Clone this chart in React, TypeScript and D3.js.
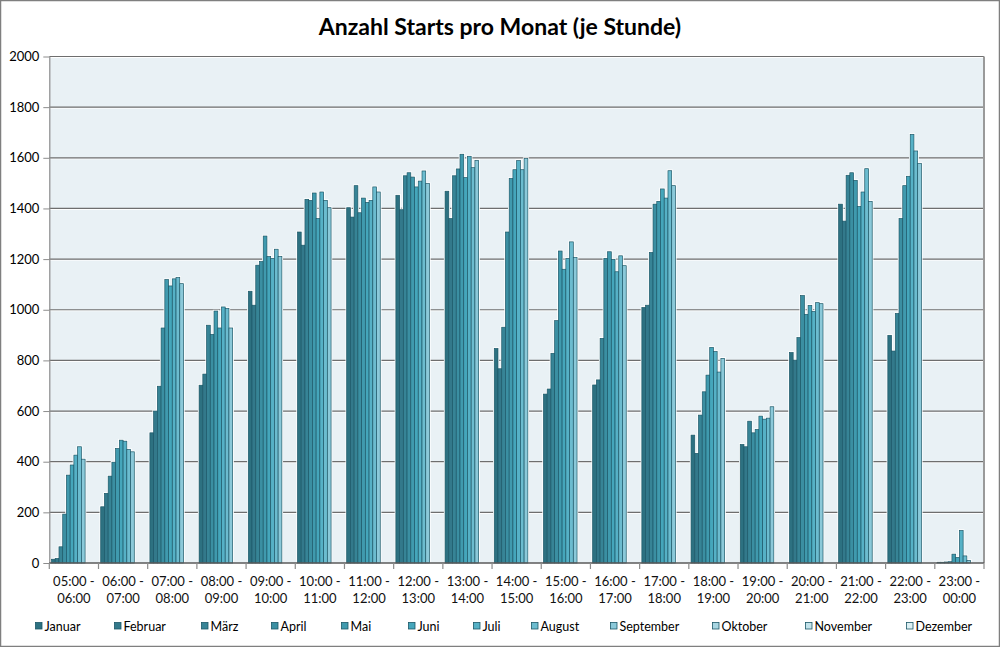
import React, { useEffect, useRef } from 'react';
import * as d3 from 'd3';

// Hour ranges on the x axis (two lines per label)
const HOUR_FROM = ['05:00', '06:00', '07:00', '08:00', '09:00', '10:00', '11:00', '12:00', '13:00', '14:00',
  '15:00', '16:00', '17:00', '18:00', '19:00', '20:00', '21:00', '22:00', '23:00'];
const HOUR_TO = ['06:00', '07:00', '08:00', '09:00', '10:00', '11:00', '12:00', '13:00', '14:00', '15:00',
  '16:00', '17:00', '18:00', '19:00', '20:00', '21:00', '22:00', '23:00', '00:00'];

const MONTHS = ['Januar', 'Februar', 'März', 'April', 'Mai', 'Juni', 'Juli', 'August',
  'September', 'Oktober', 'November', 'Dezember'];

// Starts per hour, one array per month
const JANUAR = [15, 222, 514, 702, 1073, 1307, 1403, 1452, 1468, 847, 667, 703, 1009, 505, 468, 831, 1417, 899, 3];
const FEBRUAR = [18, 275, 600, 746, 1018, 1255, 1366, 1395, 1360, 767, 687, 723, 1018, 433, 459, 801, 1350, 837, 3];
const MAERZ = [64, 343, 698, 939, 1176, 1436, 1490, 1529, 1529, 931, 828, 887, 1226, 584, 560, 890, 1531, 985, 4];
const APRIL = [193, 398, 928, 903, 1190, 1432, 1383, 1541, 1556, 1307, 957, 1203, 1417, 676, 514, 1056, 1541, 1360, 5];
const MAI = [347, 452, 1119, 995, 1291, 1461, 1441, 1524, 1614, 1518, 1232, 1229, 1428, 742, 527, 982, 1511, 1490, 35];
const JUNI = [387, 485, 1094, 928, 1210, 1360, 1424, 1485, 1522, 1553, 1160, 1199, 1477, 851, 580, 1017, 1408, 1527, 22];
const JULI = [426, 481, 1122, 1011, 1203, 1465, 1432, 1508, 1606, 1589, 1203, 1150, 1441, 835, 568, 993, 1465, 1692, 128];
const AUGUST = [459, 448, 1127, 1005, 1239, 1432, 1485, 1548, 1561, 1553, 1268, 1213, 1549, 754, 572, 1028, 1557, 1627, 28];
const SEPTEMBER = [410, 439, 1103, 928, 1210, 1403, 1465, 1498, 1590, 1597, 1207, 1174, 1490, 808, 617, 1024, 1428, 1577, 10];
const OKTOBER = [0, 0, 0, 0, 0, 0, 0, 0, 0, 0, 0, 0, 0, 0, 0, 0, 0, 0, 0];
const NOVEMBER = [0, 0, 0, 0, 0, 0, 0, 0, 0, 0, 0, 0, 0, 0, 0, 0, 0, 0, 0];
const DEZEMBER = [0, 0, 0, 0, 0, 0, 0, 0, 0, 0, 0, 0, 0, 0, 0, 0, 0, 0, 0];

const SERIES = [JANUAR, FEBRUAR, MAERZ, APRIL, MAI, JUNI, JULI, AUGUST, SEPTEMBER, OKTOBER, NOVEMBER, DEZEMBER];

const Y_TICKS = [0, 200, 400, 600, 800, 1000, 1200, 1400, 1600, 1800, 2000];

const COLORS = ['#2d7181', '#33798b', '#378496', '#3b8fa2', '#409aae', '#45a6bb', '#56b1c6', '#6cbccf',
  '#8bc9d9', '#a8d6e2', '#c3e3eb', '#dcf0f4'];

// legend swatch positions (Excel lays them out by text width)
const LEGEND_X = [35, 114, 201, 271, 341, 408, 473, 531, 610, 712, 805, 906];

const WIDTH = 1000;
const HEIGHT = 647;
const FONT = 'Lato, "Noto Sans", sans-serif';

export default function App() {
  const svgRef = useRef<SVGSVGElement>(null);

  useEffect(() => {
    if (!svgRef.current) return;
    const svg = d3.select(svgRef.current);
    svg.selectAll('*').remove();

    const left = 49.3, right = 984, top = 56.5, bottom = 563;

    svg.append('rect')
      .attr('x', 0.5).attr('y', 0.5)
      .attr('width', WIDTH - 1).attr('height', HEIGHT - 1)
      .attr('fill', '#ffffff')
      .attr('stroke', '#7f7f7f')
      .attr('stroke-width', 1.5);

    svg.append('text')
      .attr('x', 500).attr('y', 35)
      .attr('text-anchor', 'middle')
      .attr('font-family', FONT)
      .attr('font-weight', 'bold')
      .attr('font-size', 23)
      .attr('fill', '#000')
      .text('Anzahl Starts pro Monat (je Stunde)');

    const x0 = d3.scaleBand<number>()
      .domain(d3.range(HOUR_FROM.length))
      .range([left, right])
      .padding(0);

    const bw = x0.bandwidth();
    const x1 = d3.scaleBand<string>()
      .domain(MONTHS)
      .range([bw * 0.045, bw * 0.955])
      .padding(0);

    const y = d3.scaleLinear().domain([0, 2000]).range([bottom, top]);

    // plot area
    svg.append('rect')
      .attr('x', left).attr('y', top)
      .attr('width', right - left).attr('height', bottom - top)
      .attr('fill', '#e9f1f5');

    // gridlines
    const grid = svg.append('g');
    Y_TICKS.filter(t => t > 0).forEach(t => {
      grid.append('line')
        .attr('x1', left).attr('x2', right)
        .attr('y1', y(t) + 1).attr('y2', y(t) + 1)
        .attr('stroke', '#ffffff').attr('stroke-width', 1);
      grid.append('line')
        .attr('x1', left).attr('x2', right)
        .attr('y1', y(t)).attr('y2', y(t))
        .attr('stroke', '#6e6e6e').attr('stroke-width', 1.2);
    });

    // right border of plot area
    svg.append('line')
      .attr('x1', right).attr('x2', right)
      .attr('y1', top).attr('y2', bottom)
      .attr('stroke', '#9a9a9a').attr('stroke-width', 2);

    // bars
    const bars = svg.append('g');
    HOUR_FROM.forEach((_, i) => {
      const g = bars.append('g').attr('transform', `translate(${x0(i)},0)`);
      const vals = SERIES.map((s, m) => ({ m, v: s[i] })).filter(d => d.v > 0);
      // white glow behind the bars
      vals.forEach(d => {
        g.append('rect')
          .attr('x', x1(MONTHS[d.m]) as number)
          .attr('y', y(d.v))
          .attr('width', x1.bandwidth())
          .attr('height', y(0) - y(d.v))
          .attr('fill', 'none')
          .attr('stroke', '#ffffff')
          .attr('stroke-width', 2.4);
      });
      vals.forEach(d => {
        g.append('rect')
          .attr('x', x1(MONTHS[d.m]) as number)
          .attr('y', y(d.v))
          .attr('width', x1.bandwidth())
          .attr('height', y(0) - y(d.v))
          .attr('fill', COLORS[d.m])
          .attr('stroke', '#1c5868')
          .attr('stroke-width', 0.7);
      });
    });

    // y axis
    const yAxis = svg.append('g')
      .attr('transform', `translate(${left},0)`)
      .call(d3.axisLeft(y).tickValues(Y_TICKS).tickFormat(d3.format('d')).tickSize(6).tickPadding(4).tickSizeOuter(0));
    yAxis.select('.domain').attr('stroke', '#8c8c8c').attr('stroke-width', 1.2);
    yAxis.selectAll('.tick line').attr('stroke', '#8c8c8c');
    yAxis.selectAll('.tick text')
      .attr('font-family', FONT)
      .attr('font-size', 13)
      .attr('fill', '#000');

    // x axis
    const xAxis = svg.append('g');
    xAxis.append('line')
      .attr('x1', left).attr('x2', right)
      .attr('y1', bottom).attr('y2', bottom)
      .attr('stroke', '#5a5a5a').attr('stroke-width', 1.4);
    d3.range(HOUR_FROM.length + 1).forEach(i => {
      const xt = i < HOUR_FROM.length ? (x0(i) as number) : right;
      xAxis.append('line')
        .attr('x1', xt).attr('x2', xt)
        .attr('y1', bottom).attr('y2', bottom + 6)
        .attr('stroke', '#8c8c8c').attr('stroke-width', 1.2);
    });
    HOUR_FROM.forEach((h, i) => {
      const cx = (x0(i) as number) + bw / 2;
      const t = xAxis.append('text')
        .attr('text-anchor', 'middle')
        .attr('font-family', FONT)
        .attr('font-size', 13)
        .attr('fill', '#111');
      t.append('tspan').attr('x', cx).attr('y', 585.5).text(`${h} -`);
      t.append('tspan').attr('x', cx).attr('y', 602.5).text(HOUR_TO[i]);
    });

    // legend
    const legend = svg.append('g');
    MONTHS.forEach((m, i) => {
      legend.append('rect')
        .attr('x', LEGEND_X[i] + 0.5).attr('y', 622.5)
        .attr('width', 6.5).attr('height', 6.5)
        .attr('fill', COLORS[i])
        .attr('stroke', '#1c5868')
        .attr('stroke-width', 0.8);
      legend.append('text')
        .attr('x', LEGEND_X[i] + 9.5).attr('y', 630.5)
        .attr('font-family', FONT)
        .attr('font-size', 12.5)
        .attr('fill', '#000')
        .text(m);
    });
  }, []);

  return (
    <svg
      ref={svgRef}
      width={WIDTH}
      height={HEIGHT}
      style={{ position: 'absolute', left: 0, top: 0, display: 'block' }}
    />
  );
}
